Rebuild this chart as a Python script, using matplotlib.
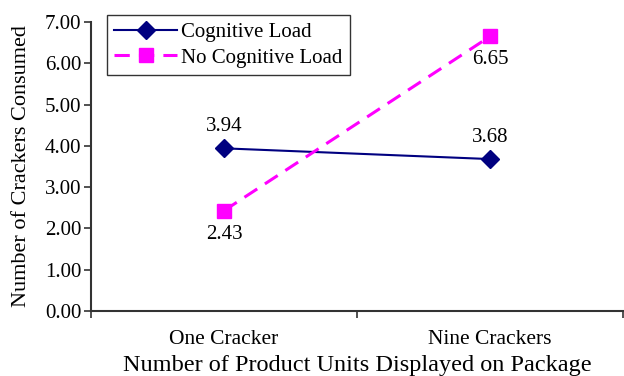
import matplotlib
matplotlib.use('Agg')
import matplotlib.pyplot as plt
import numpy as np

categories = ['One Cracker', 'Nine Crackers']
cognitive_load = [3.94, 3.68]
no_cognitive_load = [2.43, 6.65]
y_ticks = [0, 1, 2, 3, 4, 5, 6, 7]

plt.rcParams['font.family'] = 'Liberation Serif'

fig = plt.figure(figsize=(6.24, 3.76), dpi=100)
ax = fig.add_axes([91/624, 1 - 311/376, (623 - 91)/624, (311 - 22)/376])

x = np.arange(len(categories))
ax.plot(x, cognitive_load, color='#000080', lw=1.5, marker='D', ms=9,
        label='Cognitive Load')
ax.plot(x, no_cognitive_load, color='#FF00FF', lw=2.2, ls=(0, (5, 3)), marker='s', ms=10,
        label='No Cognitive Load')

# value labels
for xi, v in zip(x, cognitive_load):
    ax.annotate(f'{v:.2f}', (xi, v), xytext=(0, 9), textcoords='offset points',
                ha='center', va='bottom', fontsize=15)
for xi, v in zip(x, no_cognitive_load):
    ax.annotate(f'{v:.2f}', (xi, v), xytext=(0, -10), textcoords='offset points',
                ha='center', va='top', fontsize=15)

ax.set_xlim(-0.5, 1.5)
ax.set_ylim(0, 7)
ax.set_yticks(y_ticks)
ax.set_yticklabels([f'{t:.2f}' for t in y_ticks], fontsize=15)
ax.set_xticks(x)
ax.set_xticklabels(categories, fontsize=15.5)
ax.set_xticks([-0.5, 0.5, 1.5], minor=True)
ax.tick_params(axis='x', which='major', length=0, pad=14)
ax.tick_params(axis='x', which='minor', length=5, width=1.2, color='#333333')
ax.tick_params(axis='y', length=5, width=1.2, color='#333333', pad=2)

for s in ['top', 'right']:
    ax.spines[s].set_visible(False)
for s in ['left', 'bottom']:
    ax.spines[s].set_linewidth(1.5)
    ax.spines[s].set_color('#333333')

ax.set_xlabel('Number of Product Units Displayed on Package', fontsize=17.5, labelpad=4)
ax.set_ylabel('Number of Crackers Consumed', fontsize=16, labelpad=10)

leg = ax.legend(loc='upper left', bbox_to_anchor=(107/624, 1 - 15/376),
                bbox_transform=fig.transFigure, fontsize=15, frameon=True,
                fancybox=False, borderpad=0.35, labelspacing=0.3, handlelength=3.0,
                handletextpad=0.2, borderaxespad=0)
leg.get_frame().set_edgecolor('black')
leg.get_frame().set_linewidth(1.0)

fig.savefig('out.png', dpi=100)
